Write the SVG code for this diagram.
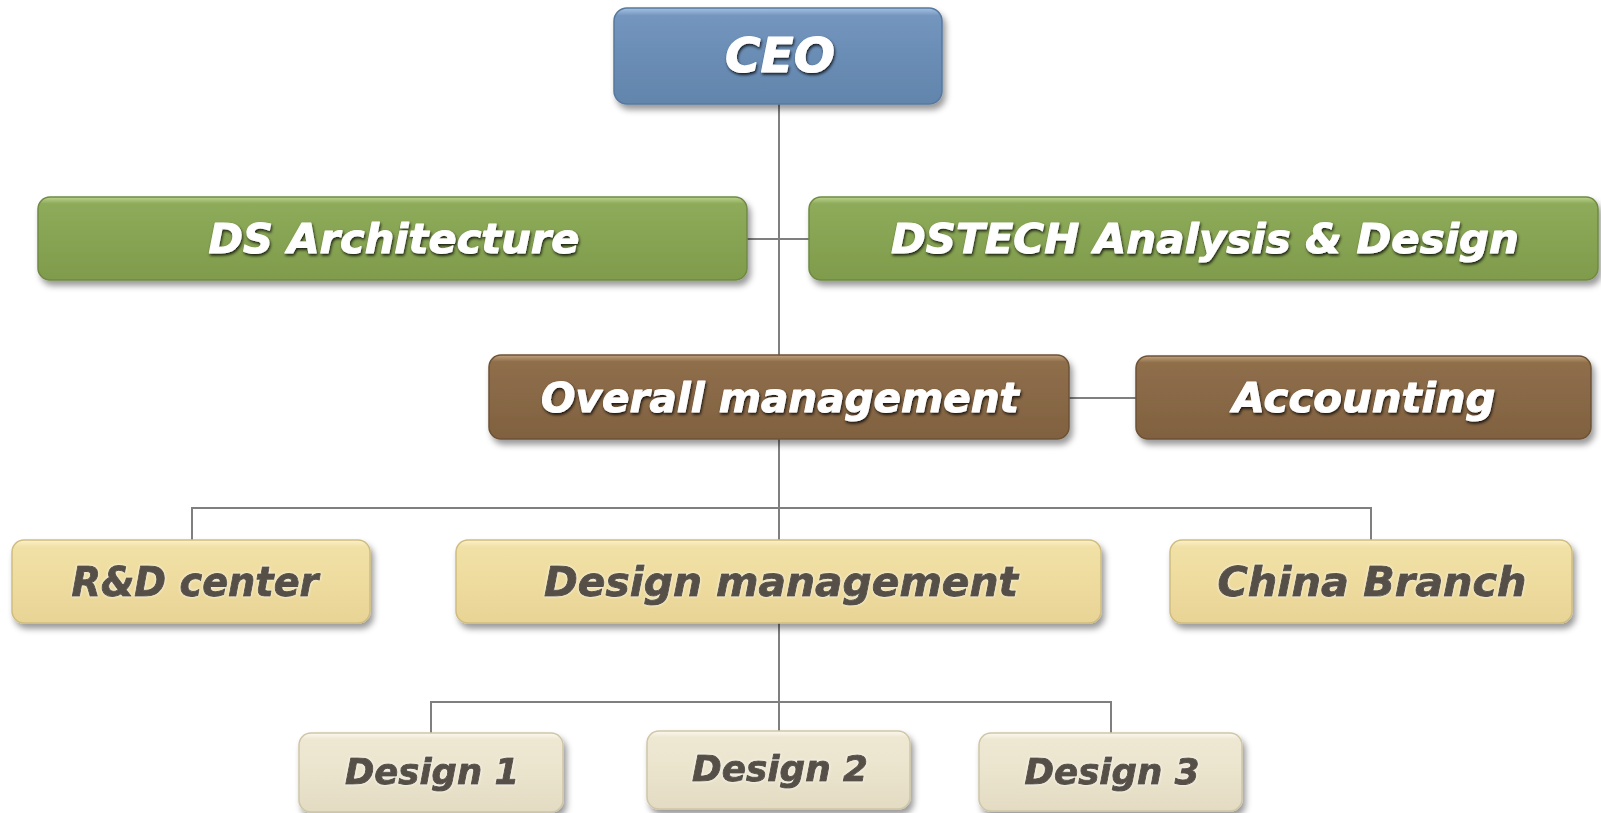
<svg xmlns="http://www.w3.org/2000/svg" width="1601" height="813" viewBox="0 0 1601 813">
<defs>
<linearGradient id="gBlue" x1="0" y1="0" x2="0" y2="1"><stop offset="0" stop-color="#a6c2e2"/><stop offset="0.08" stop-color="#7496be"/><stop offset="0.5" stop-color="#6a8db5"/><stop offset="1" stop-color="#6285ac"/></linearGradient>
<linearGradient id="gGreen" x1="0" y1="0" x2="0" y2="1"><stop offset="0" stop-color="#bcd48e"/><stop offset="0.08" stop-color="#8eab5b"/><stop offset="0.5" stop-color="#87a453"/><stop offset="1" stop-color="#7f9b4c"/></linearGradient>
<linearGradient id="gBrown" x1="0" y1="0" x2="0" y2="1"><stop offset="0" stop-color="#c2a27c"/><stop offset="0.08" stop-color="#8f6e4b"/><stop offset="0.5" stop-color="#886846"/><stop offset="1" stop-color="#806140"/></linearGradient>
<linearGradient id="gYellow" x1="0" y1="0" x2="0" y2="1"><stop offset="0" stop-color="#fbf2cc"/><stop offset="0.08" stop-color="#f1e1a6"/><stop offset="0.5" stop-color="#eedb9e"/><stop offset="1" stop-color="#e8d495"/></linearGradient>
<linearGradient id="gCream" x1="0" y1="0" x2="0" y2="1"><stop offset="0" stop-color="#fbf8ee"/><stop offset="0.08" stop-color="#eee8d3"/><stop offset="0.5" stop-color="#ebe4cd"/><stop offset="1" stop-color="#e3dbc2"/></linearGradient>
<filter id="shadow" x="-5%" y="-20%" width="110%" height="150%"><feDropShadow dx="3" dy="5" stdDeviation="3" flood-color="#000" flood-opacity="0.4"/></filter>
<filter id="tshadow" x="-5%" y="-20%" width="110%" height="150%"><feDropShadow dx="1" dy="2" stdDeviation="1.8" flood-color="#000" flood-opacity="0.8"/></filter>
<filter id="tglow" x="-5%" y="-20%" width="110%" height="150%"><feDropShadow dx="0" dy="0" stdDeviation="1.5" flood-color="#fff" flood-opacity="0.9"/></filter>
</defs>
<style>
.box{filter:url(#shadow);stroke-width:1.5}
.blue{fill:url(#gBlue);stroke:#57789f}
.green{fill:url(#gGreen);stroke:#6f8a43}
.brown{fill:url(#gBrown);stroke:#6d5236}
.yellow{fill:url(#gYellow);stroke:#cfbd80}
.cream{fill:url(#gCream);stroke:#cfc6a8}
text{font-family:"DejaVu Sans",Verdana,sans-serif;font-weight:bold;font-style:italic;text-anchor:middle;stroke-width:1;stroke-linejoin:round}
.w{fill:#ffffff;stroke:#ffffff;filter:url(#tshadow)}
.d{fill:#555046;stroke:#555046;filter:url(#tglow)}
.conn{stroke:#7f7f7f;stroke-width:2;fill:none}
</style>
<g id="connectors">
<path class="conn" d="M779 104 V355"/>
<path class="conn" d="M747 239 H809"/>
<path class="conn" d="M1069 398 H1136"/>
<path class="conn" d="M779 439 V540"/>
<path class="conn" d="M192 540 V508 H1371 V540"/>
<path class="conn" d="M779 623 V731"/>
<path class="conn" d="M431 733 V702 H1111 V733"/>
</g>
<g id="ceo"><rect class="box blue" x="614" y="8" width="328" height="96" rx="13"/><text class="w" x="780" y="71.5" font-size="48" textLength="110" lengthAdjust="spacingAndGlyphs">CEO</text></g>
<g id="ds-architecture"><rect class="box green" x="38" y="197" width="709" height="83" rx="12"/><text class="w" x="394" y="253" font-size="41" textLength="371" lengthAdjust="spacingAndGlyphs">DS Architecture</text></g>
<g id="dstech"><rect class="box green" x="809" y="197" width="789" height="83" rx="12"/><text class="w" x="1205" y="253" font-size="41" textLength="628" lengthAdjust="spacingAndGlyphs">DSTECH Analysis &amp; Design</text></g>
<g id="overall-management"><rect class="box brown" x="489" y="355" width="580" height="84" rx="12"/><text class="w" x="780" y="411.5" font-size="41" textLength="478" lengthAdjust="spacingAndGlyphs">Overall management</text></g>
<g id="accounting"><rect class="box brown" x="1136" y="356" width="455" height="83" rx="12"/><text class="w" x="1364" y="411.5" font-size="41" textLength="263" lengthAdjust="spacingAndGlyphs">Accounting</text></g>
<g id="rd-center"><rect class="box yellow" x="12" y="540" width="358" height="83" rx="12"/><text class="d" x="195" y="596" font-size="41" textLength="247" lengthAdjust="spacingAndGlyphs">R&amp;D center</text></g>
<g id="design-management"><rect class="box yellow" x="456" y="540" width="645" height="83" rx="12"/><text class="d" x="781" y="596" font-size="41" textLength="474" lengthAdjust="spacingAndGlyphs">Design management</text></g>
<g id="china-branch"><rect class="box yellow" x="1170" y="540" width="402" height="83" rx="12"/><text class="d" x="1372" y="596" font-size="41" textLength="309" lengthAdjust="spacingAndGlyphs">China Branch</text></g>
<g id="design-1"><rect class="box cream" x="299" y="733" width="264" height="79" rx="12"/><text class="d" x="432" y="784" font-size="36" textLength="174" lengthAdjust="spacingAndGlyphs">Design 1</text></g>
<g id="design-2"><rect class="box cream" x="647" y="731" width="263" height="78" rx="12"/><text class="d" x="780" y="781" font-size="36" textLength="176" lengthAdjust="spacingAndGlyphs">Design 2</text></g>
<g id="design-3"><rect class="box cream" x="979" y="733" width="263" height="78" rx="12"/><text class="d" x="1112" y="784" font-size="36" textLength="175" lengthAdjust="spacingAndGlyphs">Design 3</text></g>
</svg>
